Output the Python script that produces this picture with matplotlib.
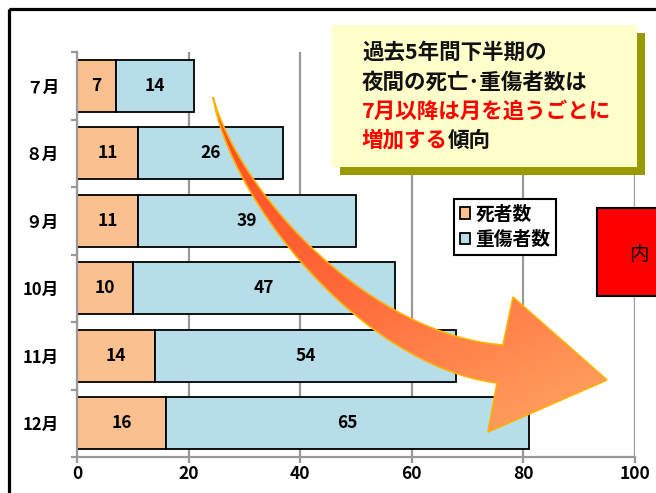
import matplotlib.pyplot as plt
from matplotlib.patches import Rectangle, PathPatch
from matplotlib.path import Path
from matplotlib.colors import LinearSegmentedColormap
import numpy as np

plt.rcParams['font.family'] = ['Noto Sans CJK JP', 'DejaVu Sans']

# data
months = ['７月', '８月', '９月', '10月', '11月', '12月']
deaths = [7, 11, 11, 10, 14, 16]
injuries = [14, 26, 39, 47, 54, 65]
series_names = ['死者数', '重傷者数']
x_ticks = [0, 20, 40, 60, 80, 100]

W, H = 656, 493
fig = plt.figure(figsize=(W / 100, H / 100), dpi=100)

# main chart, placed in pixel terms
left, right, top, bottom = 77, 635, 52, 457
ax = fig.add_axes([left / W, 1 - bottom / H, (right - left) / W, (bottom - top) / H])

y = np.arange(len(months))
b1 = ax.barh(y, deaths, height=0.77, color='#FAC090', edgecolor='black', linewidth=1.3, label=series_names[0])
b2 = ax.barh(y, injuries, left=deaths, height=0.77, color='#B7DDE8', edgecolor='black', linewidth=1.3, label=series_names[1])
for c in (b1, b2):
    ax.bar_label(c, label_type='center', fontsize=12.5, fontweight='bold')

ax.set_xlim(0, 100)
ax.set_ylim(len(months) - 0.5, -0.5)
ax.set_xticks(x_ticks)
ax.set_xticklabels([str(v) for v in x_ticks], fontsize=12.5, fontweight='bold')
ax.set_yticks(np.arange(-0.5, len(months), 1))
ax.set_yticklabels([])
ax.set_yticks(y, minor=True)
ax.set_yticklabels(months, minor=True, fontsize=12, fontweight='bold')
ax.tick_params(axis='y', which='minor', length=0, pad=13)
ax.tick_params(axis='both', which='major', length=4, width=1.6, color='#999999')
ax.tick_params(axis='x', pad=2)
ax.grid(axis='x', color='#999999', linewidth=1.6)
ax.set_axisbelow(True)
for s in ['top', 'right']:
    ax.spines[s].set_visible(False)
for s in ['left', 'bottom']:
    ax.spines[s].set_color('#999999')
    ax.spines[s].set_linewidth(1.6)

# overlay in pixel coords for the decorations
ov = fig.add_axes([0, 0, 1, 1], zorder=2)
ov.patch.set_alpha(0)

# outer frame
ov.add_patch(Rectangle((8.5, 8.5), 700, 600, fill=False, edgecolor='black', linewidth=2.3))

# yellow callout with shadow
ov.add_patch(Rectangle((340, 33), 305, 142, facecolor='#999900', edgecolor='none'))
ov.add_patch(Rectangle((332, 25), 305, 142, facecolor='#FFFFCC', edgecolor='none'))
tx = 362
fs = 15.5
ov.text(tx, 52, '過去5年間下半期の', fontsize=fs, fontweight='bold', va='center', ha='left', color='#111111')
ov.text(tx, 82, '夜間の死亡･重傷者数は', fontsize=fs, fontweight='bold', va='center', ha='left', color='#111111')
ov.text(tx, 111, '7月以降は月を追うごとに', fontsize=fs, fontweight='bold', va='center', ha='left', color='red')
t1 = ov.text(tx, 140, '増加する', fontsize=fs, fontweight='bold', va='center', ha='left', color='red')
ov.annotate('傾向', xy=(1, 0.5), xycoords=t1, fontsize=fs, fontweight='bold', va='center', ha='left', color='#111111')

# red box, cut at the right edge
ov.add_patch(Rectangle((597, 208), 100, 88, facecolor='red', edgecolor='black', linewidth=1.5))
ov.text(629, 254, '内', fontsize=14, va='center', ha='left', color='black')

# curved arrow
verts = [(213, 97), (240, 195), (370, 335), (503, 345),
         (513, 297), (607, 380), (488, 432), (497, 383),
         (360, 365), (230, 200), (213, 97)]
codes = [Path.MOVETO, Path.CURVE4, Path.CURVE4, Path.CURVE4,
         Path.LINETO, Path.LINETO, Path.LINETO, Path.LINETO,
         Path.CURVE4, Path.CURVE4, Path.CURVE4]
arrow = PathPatch(Path(verts, codes), facecolor='none', edgecolor='#FFB000', linewidth=1.2, zorder=3)
ov.add_patch(arrow)
gx, gy = np.meshgrid(np.linspace(0, 1, 100), np.linspace(0, 1, 100))
grad = 0.35 * gx + 0.65 * gy
cmap = LinearSegmentedColormap.from_list('arr', ['#FF4A1E', '#FF6A3A', '#FFA865'])
img = ov.imshow(grad, extent=[210, 610, 435, 95], cmap=cmap, aspect='auto', zorder=2.5)
img.set_clip_path(arrow)

ov.set_xlim(0, W)
ov.set_ylim(H, 0)
ov.axis('off')

leg = fig.legend(handles=[b1, b2], labels=series_names, loc='upper left',
                 bbox_to_anchor=(454 / W, 1 - 199 / H), borderaxespad=0,
                 frameon=True, fancybox=False, edgecolor='black', framealpha=1,
                 borderpad=0.3, handlelength=0.55, handleheight=0.55, handletextpad=0.3,
                 labelspacing=0.35, prop={'size': 13.5, 'weight': 'bold'})
leg.get_frame().set_linewidth(1.5)
leg.set_zorder(5)

fig.savefig('out.png', dpi=100)
